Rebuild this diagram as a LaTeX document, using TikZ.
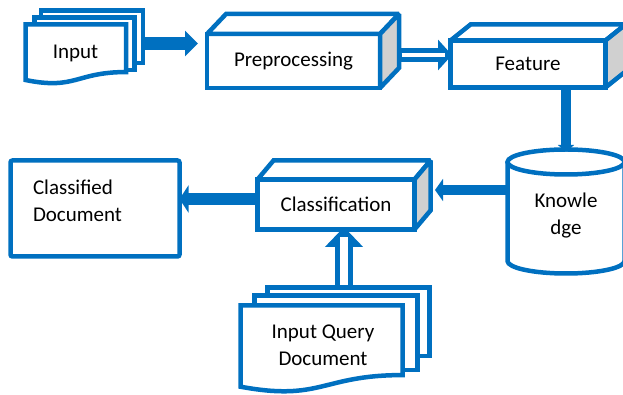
\documentclass[tikz,border=0pt]{standalone}
\usepackage{fontspec}
\setmainfont{Carlito}
\usetikzlibrary{arrows.meta,calc}

\definecolor{docblue}{RGB}{0,112,192}
\definecolor{sidegray}{RGB}{208,208,208}

% top and right face of a box node: name, dx, dy
\newcommand{\boxfaces}[3]{%
  \draw[edgeline,fill=white] (#1.north west) -- ++(#2,#3) -- ($(#1.north east)+(#2,#3)$) -- (#1.north east) -- cycle;
  \draw[edgeline,fill=sidegray] (#1.north east) -- ++(#2,#3) -- ($(#1.south east)+(#2,#3)$) -- (#1.south east) -- cycle;}

% front page with a wavy lower edge
\newcommand{\wavepage}[1]{%
  \draw[edgeline,fill=white] (#1.south west) -- (#1.north west) -- (#1.north east)
    -- ($(#1.north east)!0.857!(#1.south east)$)
    .. controls ($(#1.north)!0.857!(#1.south)$) and ($(#1.north)!1.185!(#1.south)$) .. (#1.south west) -- cycle;}

\begin{document}
\begin{tikzpicture}[x=1pt,y=1pt,
  every node/.style={font=\fontsize{21}{27}\selectfont,inner sep=0pt,outer sep=0pt},
  edgeline/.style={draw=docblue,line width=4.5pt,miter limit=1.5},
  boxnode/.style={edgeline,fill=white,rectangle},
  pagenode/.style={edgeline,fill=white,rectangle},
  arrowa/.style={draw=docblue,line width=13pt,-{Triangle[length=13pt,width=25pt]}},
  arrowb/.style={draw=docblue,line width=10pt,-{Triangle[length=8pt,width=22pt]}},
  arrowc/.style={draw=docblue,line width=10pt,-{Triangle[length=7pt,width=16pt]}},
  arrowe/.style={draw=docblue,line width=12pt,-{Triangle[length=9pt,width=27pt]}},
  dblarrow/.style={draw=docblue,line width=14pt,-{Triangle[length=14pt,width=30pt]}},
  dblarrowup/.style={draw=docblue,line width=18pt,-{Triangle[length=20pt,width=37pt]}}]

  \useasboundingbox (0,0) rectangle (623,395);

  % input documents
  \node[pagenode,minimum width=102,minimum height=52.5] (inpback) at (92,358.25) {};
  \node[pagenode,minimum width=100,minimum height=52.5] (inpmid) at (84.5,351.25) {};
  \node[minimum width=100.5,minimum height=55.5] (inpfront) at (75.75,342.75) {};
  \wavepage{inpfront}
  \node (inp) at (75.5,342) {Input};

  % boxes
  \node[boxnode,minimum width=173,minimum height=54] (prep) at (293.5,334) {Preprocessing};
  \boxfaces{prep}{19}{20}
  \node[boxnode,minimum width=155,minimum height=47] (feat) at (528,331) {Feature};
  \boxfaces{feat}{20}{16}
  \node[boxnode,minimum width=157,minimum height=50] (cls) at (336,190.5) {Classification};
  \boxfaces{cls}{16}{19}
  \node[boxnode,rounded corners=2pt,minimum width=169,minimum height=96] (cdoc) at (95,186.5) {};
  \node[anchor=west,align=left] (cdoctxt) at (33,194) {Classified\\Document};

  % knowledge base
  \node[minimum width=117,minimum height=99] (know) at (566,183.5) {};
  \draw[edgeline] (know.north west) -- (know.south west)
    arc[start angle=180,end angle=360,x radius=58.5,y radius=12.5] -- (know.north east);
  \draw[edgeline] (know.north) ellipse [x radius=58.5,y radius=12.5];
  \node[align=center] (knowtxt) at ([yshift=-4]know.center) {Knowle\\dge};

  % query documents
  \node[pagenode,minimum width=162,minimum height=68.5] (qback) at (348.5,73.25) {};
  \node[pagenode,minimum width=163,minimum height=74.5] (qmid) at (336,62.25) {};
  \node[minimum width=162,minimum height=81.2] (qfront) at (321.5,48.9) {};
  \wavepage{qfront}
  \node[align=center] (query) at (323,50) {Input Query\\Document};

  % connectors
  \draw[arrowa,shorten >=9pt] ([yshift=-6.75]inpback.east) -- ([yshift=17.5]prep.west);
  \draw[dblarrow] ([xshift=19,yshift=6]prep.east) -- ([xshift=1.5,yshift=9]feat.west);
  \draw[white,line width=4pt,shorten <=2.5pt,shorten >=7pt] ([xshift=19,yshift=6]prep.east) -- ([xshift=1.5,yshift=9]feat.west);
  \draw[arrowc] (feat.south -| know.north) -- ([yshift=10]know.north);
  \draw[arrowb] ([yshift=21.5]know.west) -- ([xshift=20.5,yshift=14.5]cls.east);
  \draw[arrowe] ([yshift=5.5]cls.west) -- ([yshift=9.5]cdoc.east);
  \draw[dblarrowup] ([xshift=-4.5]qback.north) -- ([xshift=8,yshift=2.5]cls.south);
  \draw[white,line width=8pt,shorten <=2.5pt,shorten >=10pt] ([xshift=-4.5]qback.north) -- ([xshift=8,yshift=2.5]cls.south);
\end{tikzpicture}
\end{document}
